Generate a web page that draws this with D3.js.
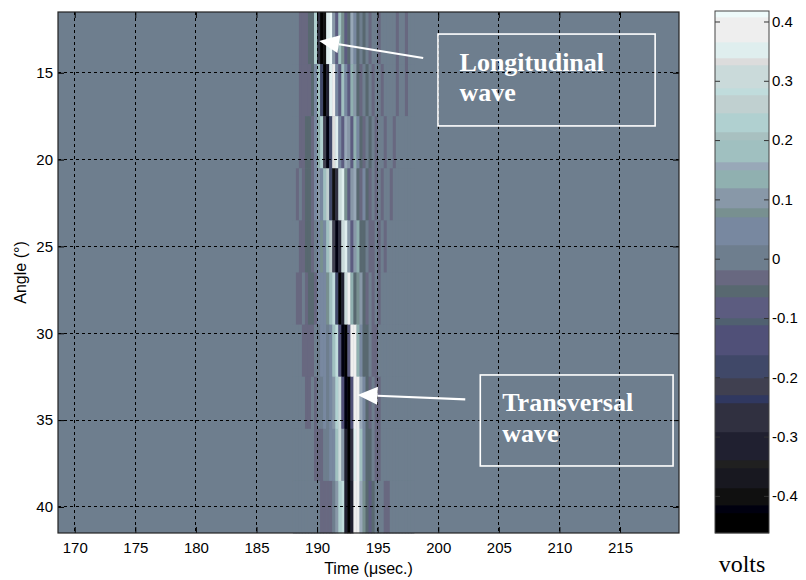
<!DOCTYPE html>
<html>
<head>
<meta charset="utf-8">
<script src="https://cdn.jsdelivr.net/npm/d3@7/dist/d3.min.js"></script>
<style>
  body { margin: 0; background: #fff; }
</style>
</head>
<body>
<svg id="chart" width="806" height="580" font-family="Liberation Sans, Arial, sans-serif"></svg>
<script>
// time bins (µs): left edge of each 0.25 µs sample column
const timeBins = [188, 188.25, 188.5, 188.75, 189, 189.25, 189.5, 189.75,
  190, 190.25, 190.5, 190.75, 191, 191.25, 191.5, 191.75,
  192, 192.25, 192.5, 192.75, 193, 193.25, 193.5, 193.75,
  194, 194.25, 194.5, 194.75, 195, 195.25, 195.5, 195.75,
  196, 196.25, 196.5, 196.75, 197, 197.25, 197.5, 197.75];
const timeStep = 0.25;

// angle rows (deg), edges
const angleEdges = [11.5, 14.5, 17.5, 20.5, 23.5, 26.5, 29.5, 32.5, 35.5, 38.5, 41.5];

// volts per row, one value per time bin
const row0 = [0, 0, -0.03, -0.03, -0.02, -0.06, -0.05, 0.22, -0.25, -0.46, -0.40, 0.35, 0.42, 0.10, -0.10, 0.20, 0.08, -0.10, -0.06, 0.16, 0.05, -0.06, 0.02, -0.05, 0, -0.04, 0, 0, -0.03, 0, 0, 0, 0, 0, -0.03, 0, 0, -0.04, 0, 0];
const row1 = [0, 0, -0.02, -0.03, -0.03, -0.04, -0.06, 0.05, 0.20, -0.20, -0.44, -0.30, 0.34, 0.38, 0.05, -0.08, 0.18, 0.04, -0.10, 0.12, 0.10, -0.05, -0.04, 0.02, -0.05, 0, -0.04, 0, 0, -0.03, 0, 0, 0, 0, -0.02, 0, 0, -0.04, 0, 0];
const row2 = [0, 0, -0.03, -0.02, -0.05, -0.06, -0.04, 0.04, 0.14, 0.22, -0.22, -0.42, -0.20, 0.33, 0.36, 0.05, -0.10, 0.15, 0.10, -0.08, 0.12, 0.06, -0.05, -0.03, 0.02, -0.05, 0, -0.04, 0, 0, -0.03, 0, 0, -0.03, 0, 0, 0, 0, 0, 0];
const row3 = [0, -0.02, 0, -0.03, -0.05, -0.06, -0.03, 0.03, 0.10, 0.06, 0.18, 0.25, -0.20, -0.40, -0.25, 0.32, 0.36, 0.08, -0.10, 0.10, 0.15, -0.05, -0.04, 0.03, -0.05, -0.03, 0, -0.04, 0, -0.03, 0, 0, -0.03, 0, 0, 0, 0, 0, 0, 0];
const row4 = [0, 0, -0.03, -0.02, -0.05, -0.06, -0.04, 0, 0.06, 0.08, 0.04, 0.20, 0.26, -0.22, -0.42, -0.25, 0.30, 0.36, 0.10, -0.08, 0.10, 0.12, -0.05, -0.05, 0.02, -0.04, -0.03, 0, -0.04, 0, -0.02, 0, 0, 0, 0, 0, 0, 0, 0, 0];
const row5 = [0, -0.03, -0.02, 0, -0.04, -0.06, -0.05, -0.02, 0.04, 0.06, 0.03, 0.08, 0.20, 0.28, -0.18, -0.44, -0.30, 0.30, 0.38, 0.12, -0.06, 0.08, 0.10, -0.05, -0.04, 0.02, -0.04, 0, -0.03, 0, 0, 0, 0, 0, 0, 0, 0, 0, 0, 0];
const row6 = [0, 0, 0, -0.02, -0.03, -0.04, -0.03, 0, 0.02, 0.03, 0.04, 0.02, 0.05, 0.20, 0.28, -0.15, -0.42, -0.45, -0.10, 0.38, 0.40, 0.14, 0.04, -0.06, -0.05, 0, -0.04, -0.03, 0, 0, 0, 0, 0, 0, 0, 0, 0, 0, 0, 0];
const row7 = [0, 0, 0, 0, -0.02, -0.03, 0, -0.02, 0, 0.02, 0.03, 0.02, 0.04, 0.10, 0.22, 0.30, -0.15, -0.42, -0.46, -0.15, 0.40, 0.38, 0.15, 0.05, -0.06, -0.04, 0, -0.04, -0.03, 0, 0, 0, 0, 0, 0, 0, 0, 0, 0, 0];
const row8 = [0, 0, 0, 0, 0, 0, 0, -0.02, -0.02, -0.03, 0, 0.02, 0.03, 0.06, 0.18, 0.30, 0.10, -0.30, -0.46, -0.25, 0.36, 0.40, 0.20, 0.06, -0.05, -0.06, 0, -0.03, -0.04, 0, 0, 0, 0, 0, 0, 0, 0, 0, 0, 0];
const row9 = [0, 0, 0, 0, 0, 0, 0, 0, 0, -0.03, -0.04, -0.03, -0.04, 0.02, 0.10, 0.22, 0.28, -0.30, -0.46, -0.30, 0.38, 0.40, 0.15, 0.08, -0.06, -0.07, -0.05, 0, 0, 0, -0.04, -0.03, 0, 0, 0, 0, 0, 0, 0, 0];
const volts = [row0, row1, row2, row3, row4, row5, row6, row7, row8, row9];

const xTicks = [170, 175, 180, 185, 190, 195, 200, 205, 210, 215];
const yTicks = [15, 20, 25, 30, 35, 40];
const cbTicks = [-0.4, -0.3, -0.2, -0.1, 0, 0.1, 0.2, 0.3, 0.4];

// colour limits and the (palette-quantised) bone-like colormap bands
const vRange = [-0.4626, 0.4177];
const cmapLevels = [-0.4288, -0.4154, -0.3867, -0.3530, -0.3395, -0.2922, -0.2433, -0.2298,
  -0.2012, -0.1624, -0.1118, -0.1000, -0.0646, -0.0443, -0.0191, 0.0231, 0.0703, 0.0855,
  0.1192, 0.1496, 0.1631, 0.2002, 0.2137, 0.2457, 0.2761, 0.2879, 0.3267, 0.3385, 0.3654, 0.4076];
const cmapColors = ["#000000", "#00000f", "#101010", "#181820", "#202020", "#202030", "#303040", "#303860",
  "#404050", "#404868", "#505078", "#506070", "#5c5c80", "#586870", "#686880", "#6e7e8e",
  "#7888a0", "#789090", "#8898a8", "#90b0b0", "#98a8b8", "#a0c0c0", "#a8c0c0", "#b0d0d0",
  "#c0d0d0", "#c0dcdc", "#cadada", "#dcdcdc", "#dfeeee", "#eeeeee", "#eefafa"];

// annotations, in data units (time, angle)
const notes = [
  { lines: ["Longitudinal", "wave"], box: [199.98, 12.77, 217.9, 18.06], text: [201.76, 14.88, 16.62],
    tail: [198.76, 14.15], tip: [190.17, 13.17] },
  { lines: ["Transversal", "wave"], box: [203.47, 32.4, 219.38, 37.64], text: [205.28, 34.46, 36.24],
    tail: [202.23, 33.8], tip: [193.34, 33.55] }
];

const sans = "Liberation Sans, Arial, sans-serif";
const serif = "Liberation Serif, Times New Roman, serif";

const svg = d3.select("#chart");
const plot = { left: 58, top: 12, right: 679, bottom: 533 };
const x = d3.scaleLinear().domain([168.62, 219.87]).range([plot.left, plot.right]);
const y = d3.scaleLinear().domain([11.5, 41.5]).range([plot.top, plot.bottom]);
const color = d3.scaleThreshold().domain(cmapLevels).range(cmapColors);

// background (zero signal)
svg.append("rect")
  .attr("x", plot.left).attr("y", plot.top)
  .attr("width", plot.right - plot.left).attr("height", plot.bottom - plot.top)
  .attr("fill", color(0));

// heatmap cells
const cells = [];
volts.forEach((row, r) => {
  row.forEach((v, c) => cells.push({ t: timeBins[c], a0: angleEdges[r], a1: angleEdges[r + 1], v: v }));
});
svg.append("g").selectAll("rect")
  .data(cells)
  .join("rect")
  .attr("x", d => x(d.t))
  .attr("y", d => y(d.a0))
  .attr("width", d => x(d.t + timeStep) - x(d.t) + 0.4)
  .attr("height", d => y(d.a1) - y(d.a0) + 0.4)
  .attr("fill", d => color(d.v));

// dashed grid
const grid = svg.append("g").attr("stroke", "#000").attr("stroke-width", 1)
  .attr("stroke-dasharray", "3,3").attr("shape-rendering", "crispEdges");
xTicks.forEach(t => {
  grid.append("line").attr("x1", x(t)).attr("x2", x(t)).attr("y1", plot.top).attr("y2", plot.bottom);
});
yTicks.forEach(a => {
  grid.append("line").attr("x1", plot.left).attr("x2", plot.right).attr("y1", y(a)).attr("y2", y(a));
});

// axes (ticks inside, matlab style)
const fmtAxis = d => String(d);
svg.append("g")
  .attr("transform", `translate(0,${plot.bottom})`)
  .call(d3.axisBottom(x).tickValues(xTicks).tickSizeInner(-6).tickSizeOuter(0).tickPadding(9).tickFormat(fmtAxis))
  .call(g => g.select(".domain").remove())
  .call(g => g.selectAll("text").attr("font-size", 15).attr("font-family", sans));
svg.append("g")
  .attr("transform", `translate(${plot.left},0)`)
  .call(d3.axisLeft(y).tickValues(yTicks).tickSizeInner(-6).tickSizeOuter(0).tickPadding(5).tickFormat(fmtAxis))
  .call(g => g.select(".domain").remove())
  .call(g => g.selectAll("text").attr("font-size", 15).attr("font-family", sans));
svg.append("g")
  .attr("transform", `translate(0,${plot.top})`)
  .call(d3.axisTop(x).tickValues(xTicks).tickSizeInner(-6).tickSizeOuter(0).tickFormat(""))
  .call(g => g.select(".domain").remove());
svg.append("g")
  .attr("transform", `translate(${plot.right},0)`)
  .call(d3.axisRight(y).tickValues(yTicks).tickSizeInner(-6).tickSizeOuter(0).tickFormat(""))
  .call(g => g.select(".domain").remove());

svg.append("rect")
  .attr("x", plot.left).attr("y", plot.top)
  .attr("width", plot.right - plot.left).attr("height", plot.bottom - plot.top)
  .attr("fill", "none").attr("stroke", "#222").attr("stroke-width", 1.2);

// axis titles
svg.append("text")
  .attr("x", (plot.left + plot.right) / 2).attr("y", 574)
  .attr("text-anchor", "middle").attr("font-size", 16).attr("font-family", sans)
  .text("Time (\u03bcsec.)");
svg.append("text")
  .attr("transform", `translate(26,${(plot.top + plot.bottom) / 2}) rotate(-90)`)
  .attr("text-anchor", "middle").attr("font-size", 16).attr("font-family", sans)
  .text("Angle (\u00b0)");

// annotations
notes.forEach(n => {
  const g = svg.append("g");
  g.append("rect")
    .attr("x", x(n.box[0])).attr("y", y(n.box[1]))
    .attr("width", x(n.box[2]) - x(n.box[0])).attr("height", y(n.box[3]) - y(n.box[1]))
    .attr("fill", "none").attr("stroke", "#fff").attr("stroke-width", 1.6);
  n.lines.forEach((s, i) => {
    g.append("text")
      .attr("x", x(n.text[0])).attr("y", y(n.text[i + 1]))
      .attr("font-family", serif)
      .attr("font-weight", "bold").attr("font-size", 26)
      .attr("fill", "#fff")
      .text(s);
  });
  const x0 = x(n.tail[0]), y0 = y(n.tail[1]), x1 = x(n.tip[0]), y1 = y(n.tip[1]);
  const ang = Math.atan2(y1 - y0, x1 - x0);
  const len = 20, half = 9;
  const bx = x1 - len * Math.cos(ang), by = y1 - len * Math.sin(ang);
  g.append("line").attr("x1", x0).attr("y1", y0).attr("x2", bx).attr("y2", by)
    .attr("stroke", "#fff").attr("stroke-width", 2.2);
  g.append("path")
    .attr("d", d3.line()([
      [x1, y1],
      [bx + half * Math.sin(ang), by - half * Math.cos(ang)],
      [bx - half * Math.sin(ang), by + half * Math.cos(ang)]
    ]) + "Z")
    .attr("fill", "#fff");
});

// colorbar
const cb = { left: 715, right: 769, top: 11, bottom: 533 };
const cy = d3.scaleLinear().domain(vRange).range([cb.bottom, cb.top]);
const bands = cmapColors.map((c, i) => ({
  lo: i === 0 ? vRange[0] : cmapLevels[i - 1],
  hi: i === cmapColors.length - 1 ? vRange[1] : cmapLevels[i],
  c: c
}));
svg.append("g").selectAll("rect")
  .data(bands)
  .join("rect")
  .attr("x", cb.left).attr("width", cb.right - cb.left)
  .attr("y", d => cy(d.hi)).attr("height", d => cy(d.lo) - cy(d.hi) + 0.3)
  .attr("fill", d => d.c);

const fmtCb = d => d === 0 ? "0" : d3.format(".1f")(d).replace("\u2212", "-");
svg.append("g")
  .attr("transform", `translate(${cb.right},0)`)
  .call(d3.axisRight(cy).tickValues(cbTicks).tickSizeInner(-5).tickSizeOuter(0).tickPadding(3).tickFormat(fmtCb))
  .call(g => g.select(".domain").remove())
  .call(g => g.selectAll("line").attr("stroke", "#333"))
  .call(g => g.selectAll("text").attr("font-size", 15).attr("font-family", sans));
svg.append("g")
  .attr("transform", `translate(${cb.left},0)`)
  .call(d3.axisLeft(cy).tickValues(cbTicks).tickSizeInner(-5).tickSizeOuter(0).tickFormat(""))
  .call(g => g.select(".domain").remove())
  .call(g => g.selectAll("line").attr("stroke", "#333"));
svg.append("rect")
  .attr("x", cb.left).attr("y", cb.top)
  .attr("width", cb.right - cb.left).attr("height", cb.bottom - cb.top)
  .attr("fill", "none").attr("stroke", "#444").attr("stroke-width", 1);

svg.append("text")
  .attr("x", (cb.left + cb.right) / 2).attr("y", 572)
  .attr("text-anchor", "middle")
  .attr("font-family", serif)
  .attr("font-size", 24)
  .text("volts");
</script>
</body>
</html>
